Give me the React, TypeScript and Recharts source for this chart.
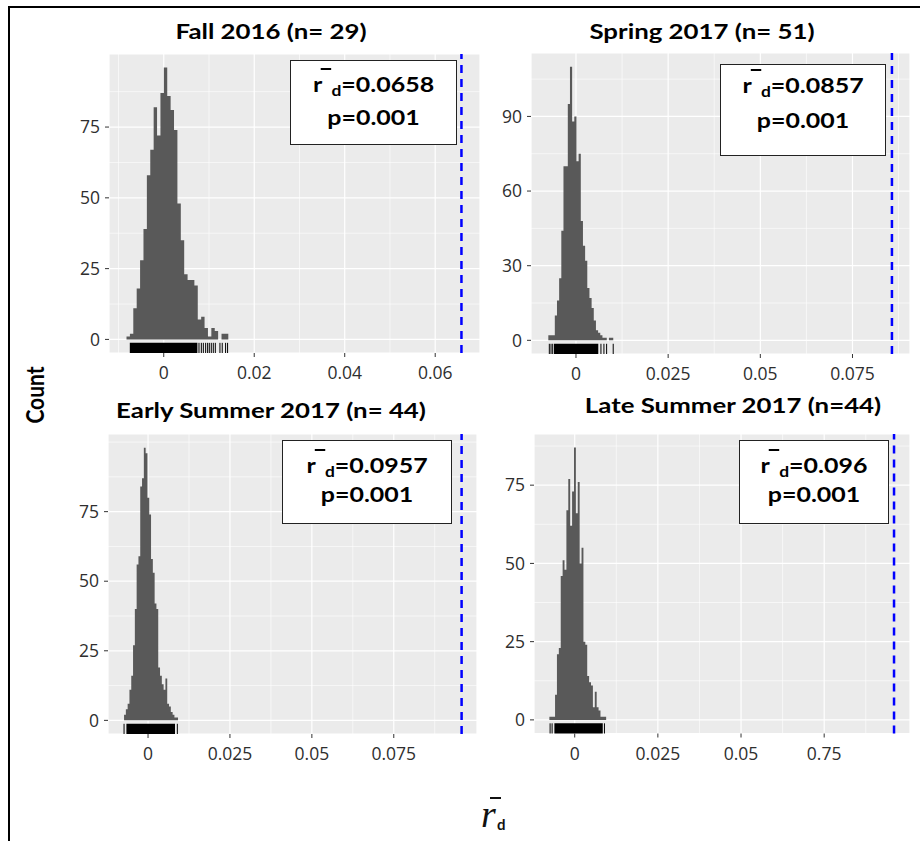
import React from "react";
import {
  ComposedChart,
  Area,
  XAxis,
  YAxis,
  CartesianGrid,
  ReferenceLine,
  ReferenceArea,
} from "recharts";

// Fall 2016 (n= 29)
const fallCounts = [1, 2, 11, 18, 28, 39, 58, 67, 82, 72, 87, 96, 86, 81, 74, 48, 35, 23, 21, 21, 19, 7, 8, 4, 1, 4, 3, 0, 2, 2];
const fallBinStart = -0.00823;
const fallBinWidth = 0.00075;
const fallRugBlock = [-0.0075, 0.00743];
const fallRugLines = [0.00779, 0.00831, 0.00875, 0.00926, 0.0097, 0.01007, 0.01051, 0.01095, 0.0114, 0.01242, 0.01293, 0.01367, 0.01411];
const fallRd = 0.0658;
const fallXTicks = [0, 0.02, 0.04, 0.06];
const fallXLabels = ["0", "0.02", "0.04", "0.06"];
const fallXMinor = [-0.01, 0.01, 0.03, 0.05];
const fallYTicks = [0, 25, 50, 75];
const fallYMinor = [12.5, 37.5, 62.5, 87.5];

// Spring 2017 (n= 51)
const springCounts = [2, 2, 2, 10, 16, 25, 44, 70, 70, 95, 110, 88, 90, 72, 75, 48, 38, 32, 21, 17, 13, 8, 4, 3, 2, 1, 1, 0, 1, 1];
const springBinStart = -0.0075;
const springBinWidth = 0.000587;
const springRugBlock = [-0.00596, 0.00605];
const springRugLines = [-0.00723, -0.00677, -0.00631, 0.00677, 0.00758, 0.00831, 0.0101];
const springRd = 0.0857;
const springXTicks = [0, 0.025, 0.05, 0.075];
const springXLabels = ["0", "0.025", "0.05", "0.075"];
const springXMinor = [0.0125, 0.0375, 0.0625, 0.0875];
const springYTicks = [0, 30, 60, 90];
const springYMinor = [15, 45, 75, 105];

// Early Summer 2017 (n= 44)
const earlyCounts = [2, 4, 6, 11, 16, 27, 40, 56, 59, 84, 87, 98, 96, 80, 74, 58, 53, 42, 40, 19, 16, 13, 11, 15, 6, 5, 3, 2, 1, 1];
const earlyBinStart = -0.00732;
const earlyBinWidth = 0.000549;
const earlyRugBlock = [-0.0066, 0.00823];
const earlyRugLines = [-0.00732, 0.00894];
const earlyRd = 0.0957;
const earlyXTicks = [0, 0.025, 0.05, 0.075];
const earlyXLabels = ["0", "0.025", "0.05", "0.075"];
const earlyXMinor = [0.0125, 0.0375, 0.0625, 0.0875];
const earlyYTicks = [0, 25, 50, 75];
const earlyYMinor = [12.5, 37.5, 62.5, 87.5, 100];

// Late Summer 2017 (n=44)
const lateCounts = [1, 1, 1, 8, 21, 23, 46, 51, 48, 67, 77, 62, 73, 87, 66, 76, 50, 55, 25, 24, 14, 12, 11, 4, 9, 4, 3, 1, 1, 1];
const lateBinStart = -0.00762;
const lateBinWidth = 0.000569;
const lateRugBlock = [-0.00611, 0.00843];
const lateRugLines = [-0.0074, -0.0068, 0.00894];
const lateRd = 0.096;
const lateXTicks = [0, 0.025, 0.05, 0.075];
const lateXLabels = ["0", "0.025", "0.05", "0.75"];
const lateXMinor = [0.0125, 0.0375, 0.0625, 0.0875];
const lateYTicks = [0, 25, 50, 75];
const lateYMinor = [12.5, 37.5, 62.5, 87.5];

const tickStyle = { fill: "#2e2e2e", fontSize: 17.5, fontFamily: "Open Sans" };

function Panel(p: any) {
  const yMax = Math.max(...p.counts);
  const yMin = -0.05 * yMax;
  const yTop = 1.05 * yMax;
  const rugTop = yMin + 0.034 * (yTop - yMin);
  const data = p.counts.map((c: number, i: number) => ({ x: p.binStart + i * p.binWidth, y: c }));
  data.push({ x: p.binStart + p.counts.length * p.binWidth, y: p.counts[p.counts.length - 1] });
  const W = p.width + 60;
  const H = p.height + 45;
  return (
    <div style={{ position: "absolute", left: p.left - 55, top: p.top - 5 }}>
      <ComposedChart width={W} height={H} data={data} margin={{ top: 5, right: 5, left: 0, bottom: 0 }}>
        <CartesianGrid fill="#EBEBEB" stroke="#FFFFFF" strokeWidth={1.2} />
        <CartesianGrid
          stroke="#FFFFFF"
          strokeWidth={0.6}
          horizontalValues={p.yMinor}
          verticalValues={p.xMinor}
        />
        <XAxis
          dataKey="x"
          type="number"
          domain={p.xDomain}
          ticks={p.xTicks}
          tickFormatter={(v: number, i: number) => {
            const k = p.xTicks.indexOf(v);
            return p.xLabels[k >= 0 ? k : i];
          }}
          allowDataOverflow
          interval={0}
          axisLine={false}
          tickLine={{ stroke: "#333333" }}
          tickSize={4}
          tickMargin={10}
          height={40}
          tick={tickStyle}
        />
        <YAxis
          type="number"
          domain={[yMin, yTop]}
          ticks={p.yTicks}
          allowDataOverflow
          interval={0}
          axisLine={false}
          tickLine={{ stroke: "#333333" }}
          tickSize={4}
          tickMargin={5}
          width={55}
          tick={tickStyle}
        />
        <Area
          type="stepAfter"
          dataKey="y"
          stroke="none"
          fill="#595959"
          fillOpacity={1}
          baseValue={0}
          dot={false}
          activeDot={false}
          isAnimationActive={false}
        />
        <ReferenceArea
          x1={p.rugBlock[0]}
          x2={p.rugBlock[1]}
          y1={yMin}
          y2={rugTop}
          fill="#000000"
          fillOpacity={1}
          stroke="none"
          ifOverflow="visible"
        />
        {p.rugLines.map((v: number) => (
          <ReferenceLine
            key={v}
            segment={[{ x: v, y: yMin }, { x: v, y: rugTop }]}
            stroke="#000000"
            strokeWidth={1}
            ifOverflow="visible"
          />
        ))}
        <ReferenceLine x={p.rd} stroke="#0000FF" strokeWidth={2.5} strokeDasharray="8 6" />
      </ComposedChart>
    </div>
  );
}

const boldFont = { fontFamily: "Lato", fontWeight: 700 as const };

function Title({ cx, cy, text }: { cx: number; cy: number; text: string }) {
  return (
    <div
      style={{
        position: "absolute",
        left: cx - 250,
        width: 500,
        top: cy - 15,
        textAlign: "center",
        ...boldFont,
        fontSize: 21.5,
        lineHeight: "28px",
        color: "#000",
        transform: "scaleX(1.2)",
        whiteSpace: "nowrap",
      }}
    >
      {text}
    </div>
  );
}

function StatBox(b: any) {
  const line = {
    position: "absolute" as const,
    left: 0,
    width: "100%",
    textAlign: "center" as const,
    ...boldFont,
    fontSize: 21.5,
    lineHeight: "28px",
    color: "#000",
    transform: "scaleX(1.16)",
    whiteSpace: "nowrap" as const,
  };
  return (
    <div
      style={{
        position: "absolute",
        left: b.left,
        top: b.top,
        width: b.width,
        height: b.height,
        border: "1px solid #222",
        background: "#fff",
        boxSizing: "border-box",
      }}
    >
      <div style={{ ...line, top: b.base1 - 22.4 }}>
        r
        <span
          style={{
            display: "inline-block",
            width: 9,
            height: 0,
            marginLeft: -1,
            borderTop: "2.5px solid #000",
            position: "relative",
            top: -22,
          }}
        />
        <span style={{ fontSize: 15, position: "relative", top: 4 }}>d</span>={b.rd}
      </div>
      <div style={{ ...line, top: b.base2 - 22.4 }}>p={b.p}</div>
    </div>
  );
}

export default function App() {
  return (
    <div style={{ position: "absolute", left: 0, top: 0, width: 920, height: 841, background: "#fff", overflow: "hidden" }}>
      <div
        style={{
          position: "absolute",
          left: 8,
          top: 6,
          width: 930,
          height: 850,
          borderTop: "2px solid #000",
          borderLeft: "2px solid #000",
        }}
      />
      <Panel
        left={109} top={53.5} width={371} height={299}
        counts={fallCounts} binStart={fallBinStart} binWidth={fallBinWidth}
        rugBlock={fallRugBlock} rugLines={fallRugLines} rd={fallRd}
        xDomain={[-0.0121, 0.0699]} xTicks={fallXTicks} xLabels={fallXLabels} xMinor={fallXMinor}
        yTicks={fallYTicks} yMinor={fallYMinor}
      />
      <Panel
        left={531} top={52.5} width={379} height={301}
        counts={springCounts} binStart={springBinStart} binWidth={springBinWidth}
        rugBlock={springRugBlock} rugLines={springRugLines} rd={springRd}
        xDomain={[-0.0122, 0.0906]} xTicks={springXTicks} xLabels={springXLabels} xMinor={springXMinor}
        yTicks={springYTicks} yMinor={springYMinor}
      />
      <Panel
        left={108} top={434} width={369} height={300}
        counts={earlyCounts} binStart={earlyBinStart} binWidth={earlyBinWidth}
        rugBlock={earlyRugBlock} rugLines={earlyRugLines} rd={earlyRd}
        xDomain={[-0.01222, 0.1004]} xTicks={earlyXTicks} xLabels={earlyXLabels} xMinor={earlyXMinor}
        yTicks={earlyYTicks} yMinor={earlyYMinor}
      />
      <Panel
        left={534} top={434} width={376} height={299.5}
        counts={lateCounts} binStart={lateBinStart} binWidth={lateBinWidth}
        rugBlock={lateRugBlock} rugLines={lateRugLines} rd={lateRd}
        xDomain={[-0.01224, 0.1008]} xTicks={lateXTicks} xLabels={lateXLabels} xMinor={lateXMinor}
        yTicks={lateYTicks} yMinor={lateYMinor}
      />

      <Title cx={271} cy={32} text="Fall 2016 (n= 29)" />
      <Title cx={702} cy={32} text="Spring 2017 (n= 51)" />
      <Title cx={271} cy={411} text="Early Summer 2017 (n= 44)" />
      <Title cx={733} cy={406} text="Late Summer 2017 (n=44)" />

      <StatBox left={290} top={60} width={167} height={85} base1={31.7} base2={64} rd="0.0658" p="0.001" />
      <StatBox left={720} top={64} width={166} height={92} base1={28.5} base2={63.5} rd="0.0857" p="0.001" />
      <StatBox left={282} top={440} width={170} height={84} base1={32.5} base2={61.5} rd="0.0957" p="0.001" />
      <StatBox left={739} top={440} width={150} height={84} base1={32.5} base2={61.5} rd="0.096" p="0.001" />

      <div
        style={{
          position: "absolute",
          left: -15,
          top: 381,
          width: 100,
          textAlign: "center",
          ...boldFont,
          fontSize: 21,
          lineHeight: "28px",
          transform: "rotate(-90deg) scaleY(1.15)",
        }}
      >
        Count
      </div>

      <div style={{ position: "absolute", left: 481, top: 792, width: 40, height: 45 }}>
        <div style={{ position: "absolute", left: 9, top: 5, width: 11, height: 2, background: "#111" }} />
        <span
          style={{
            position: "absolute",
            left: 0,
            top: 3,
            fontFamily: "Liberation Serif",
            fontStyle: "italic",
            fontSize: 38,
            lineHeight: "38px",
            color: "#111",
          }}
        >
          r
        </span>
        <span
          style={{
            position: "absolute",
            left: 16,
            top: 23,
            ...boldFont,
            fontSize: 15,
            lineHeight: "18px",
            color: "#111",
          }}
        >
          d
        </span>
      </div>
    </div>
  );
}
